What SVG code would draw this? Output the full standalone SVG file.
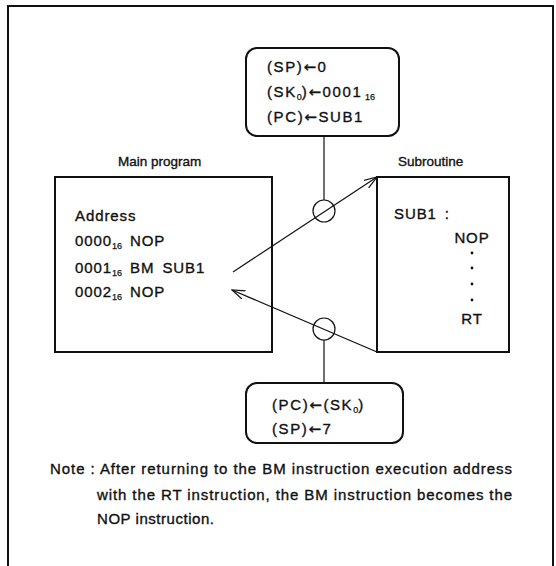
<svg xmlns="http://www.w3.org/2000/svg" width="556" height="566" viewBox="0 0 556 566">
<defs>
<style>
text{font-family:"Liberation Sans",Arial,sans-serif;font-size:15px;fill:#111;stroke:#111;stroke-width:0.35;}
.lbl{font-size:13.5px;}
.note{font-size:15px;}
.pr{letter-spacing:1.6px;}
.bx{letter-spacing:0.9px;word-spacing:3px;}
.box{fill:none;stroke:#111;stroke-width:2;}
.ln{fill:none;stroke:#111;stroke-width:1.2;}
.sub{font-size:9px;stroke-width:0.25;letter-spacing:0;}
.ar{font-family:"DejaVu Sans",sans-serif;font-size:15px;}
</style>
<marker id="ah" markerWidth="14" markerHeight="10" refX="13" refY="5" orient="auto" markerUnits="userSpaceOnUse">
<path d="M0,0.5 L13,5 L0,9.5" fill="none" stroke="#111" stroke-width="1.2"/>
</marker>
</defs>
<rect width="556" height="566" fill="#fff"/>
<path d="M8,568 L8,6 L553,6 L553,568" class="box" stroke-width="2.4"/>

<g id="top-box">
<rect x="246" y="48" width="153" height="88" rx="11" class="box"/>
<text class="pr" x="267" y="72">(SP)<tspan class="ar">←</tspan>0</text>
<text class="pr" x="267" y="97">(SK<tspan class="sub" dy="3">0</tspan><tspan dy="-3">)</tspan><tspan class="ar">←</tspan>0001<tspan class="sub" dy="3"> 16</tspan></text>
<text class="pr" x="267" y="122">(PC)<tspan class="ar">←</tspan>SUB1</text>
</g>

<g id="main-program">
<text class="lbl" x="118" y="166">Main program</text>
<rect x="55" y="177" width="217" height="175" class="box"/>
<text class="bx" x="75" y="221">Address</text>
<text class="bx" x="75" y="246">0000<tspan class="sub" dy="3">16</tspan><tspan dy="-3"> NOP</tspan></text>
<text class="bx" x="75" y="273">0001<tspan class="sub" dy="3">16</tspan><tspan dy="-3"> BM SUB1</tspan></text>
<text class="bx" x="75" y="297">0002<tspan class="sub" dy="3">16</tspan><tspan dy="-3"> NOP</tspan></text>
</g>

<g id="subroutine">
<text class="lbl" x="398" y="166">Subroutine</text>
<rect x="377" y="177" width="132" height="175" class="box"/>
<text class="bx" x="394" y="219">SUB1 :</text>
<text class="bx" x="472" y="243" text-anchor="middle">NOP</text>
<circle cx="472" cy="253" r="1.4" fill="#111"/>
<circle cx="472" cy="268" r="1.4" fill="#111"/>
<circle cx="472" cy="284" r="1.4" fill="#111"/>
<circle cx="472" cy="300" r="1.4" fill="#111"/>
<text class="bx" x="472" y="324" text-anchor="middle">RT</text>
</g>

<g id="bottom-box">
<rect x="246" y="383" width="157" height="60" rx="11" class="box"/>
<text class="pr" x="272" y="410" letter-spacing="2.4">(PC)<tspan class="ar">←</tspan>(SK<tspan class="sub" dy="3">0</tspan><tspan dy="-3">)</tspan></text>
<text class="pr" x="272" y="434" letter-spacing="2.4">(SP)<tspan class="ar">←</tspan>7</text>
</g>

<g id="connectors">
<line x1="324" y1="136" x2="324" y2="200" class="ln"/>
<circle cx="324" cy="211" r="11" class="ln"/>
<line x1="233" y1="272" x2="377" y2="177" class="ln" marker-end="url(#ah)"/>
<line x1="377" y1="352" x2="232" y2="290" class="ln" marker-end="url(#ah)"/>
<circle cx="324" cy="329" r="11" class="ln"/>
<line x1="324" y1="340" x2="324" y2="383" class="ln"/>
</g>

<g id="note">
<text class="note" x="50" y="474" textLength="462" lengthAdjust="spacing">Note : After returning to the BM instruction execution address</text>
<text class="note" x="97" y="500" textLength="415" lengthAdjust="spacing">with the RT instruction, the BM instruction becomes the</text>
<text class="note" x="97" y="524" textLength="117" lengthAdjust="spacing">NOP instruction.</text>
</g>
</svg>
